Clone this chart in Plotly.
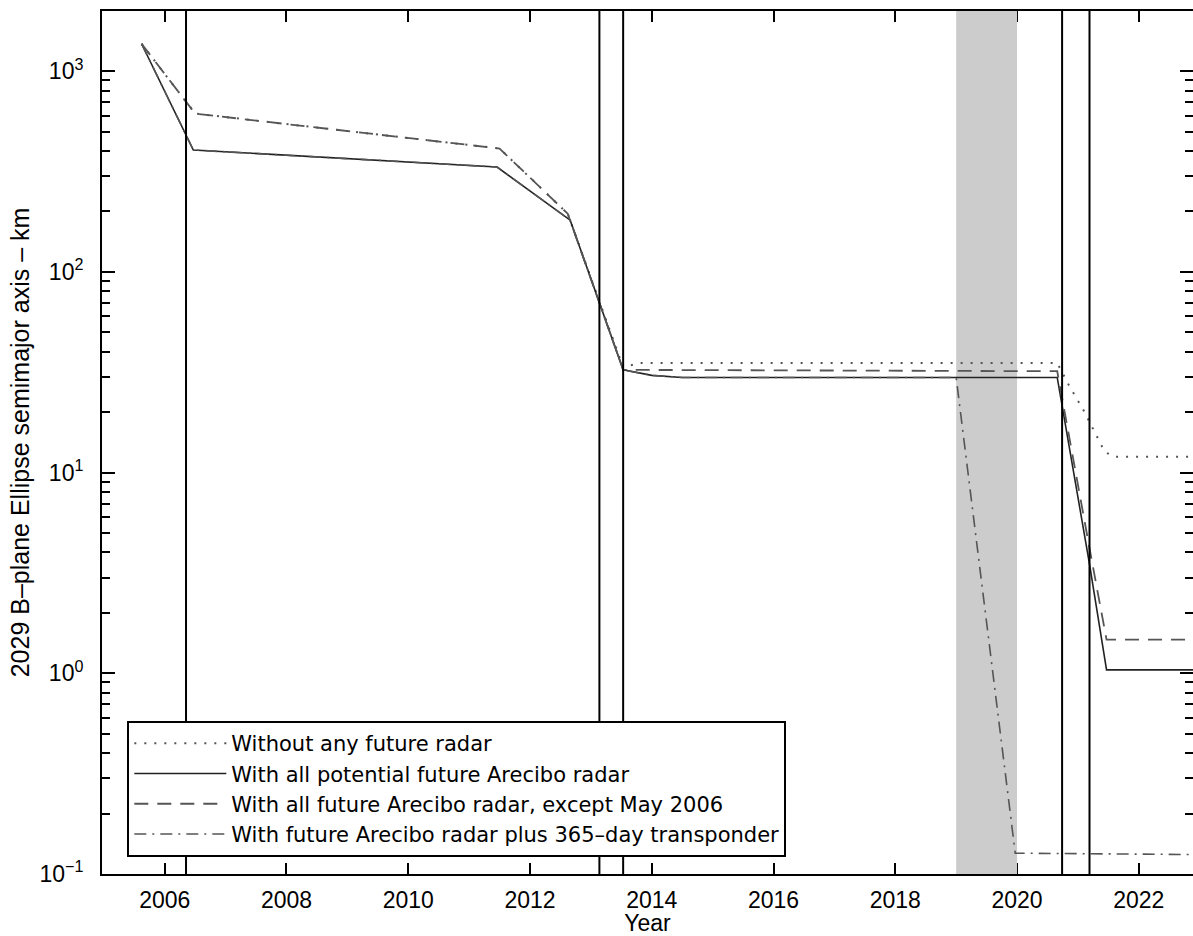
import plotly.graph_objects as go

# ---- data (years, semimajor axis in km) ----
dotted_x = [2005.62, 2006.50, 2011.50, 2012.62, 2013.53, 2013.80, 2020.66, 2020.85, 2021.09, 2021.28, 2021.44, 2021.59, 2022.89]
dotted_y = [1370, 615, 412, 195, 33.5, 35.2, 35.2, 27.3, 20.5, 15.7, 12.7, 12.0, 12.0]

solid_x = [2005.62, 2006.47, 2011.46, 2012.66, 2013.53, 2014.00, 2014.50, 2020.66, 2021.19, 2021.47, 2022.89]
solid_y = [1370, 405, 333, 181, 32.5, 30.5, 29.8, 29.8, 3.5, 1.04, 1.04]

dashed_x = [2005.62, 2006.50, 2011.50, 2012.62, 2013.53, 2020.66, 2021.19, 2021.47, 2022.89]
dashed_y = [1370, 615, 412, 195, 32.5, 32.0, 4.2, 1.47, 1.47]

dashdot_x = [2005.62, 2006.47, 2011.46, 2012.66, 2013.53, 2014.00, 2014.50, 2019.00, 2019.97, 2022.89]
dashdot_y = [1370, 405, 333, 181, 32.5, 30.5, 29.8, 29.8, 0.127, 0.125]

event_years = [2006.35, 2013.14, 2013.53, 2020.74, 2021.19]
band_years = [2019.0, 2020.0]

names = [
    "Without any future radar",
    "With all potential future Arecibo radar",
    "With all future Arecibo radar, except May 2006",
    "With future Arecibo radar plus 365\u2013day transponder",
]

x_ticks = [2006, 2008, 2010, 2012, 2014, 2016, 2018, 2020, 2022]
y_ticks = [0.1, 1, 10, 100, 1000]
y_ticktext = ["10<sup>\u22121</sup>", "10<sup>0</sup>", "10<sup>1</sup>", "10<sup>2</sup>", "10<sup>3</sup>"]
y_minor = [m * d for d in [0.1, 1, 10, 100, 1000] for m in range(2, 10)]

x_range = [2004.97, 2022.89]
y_log_range = [-1, 3.3]

FONT = "Liberation Sans, Arial, sans-serif"
LEGEND_FONT = "DejaVu Sans, Liberation Sans, sans-serif"

fig = go.Figure()

# grey band (drawn as a filled trace so it sits under the curves)
ylo, yhi = 10 ** y_log_range[0], 10 ** y_log_range[1]
fig.add_trace(go.Scatter(
    x=[band_years[0], band_years[1], band_years[1], band_years[0], band_years[0]],
    y=[ylo, ylo, yhi, yhi, ylo],
    fill="toself", fillcolor="#cccccc", line=dict(width=0), mode="lines",
    showlegend=False, hoverinfo="skip",
))

fig.add_trace(go.Scatter(x=dotted_x, y=dotted_y, mode="lines", name=names[0],
                         line=dict(color="#555555", width=2, dash="2px,8px")))
fig.add_trace(go.Scatter(x=solid_x, y=solid_y, mode="lines", name=names[1],
                         line=dict(color="#222222", width=1.6)))
fig.add_trace(go.Scatter(x=dashed_x, y=dashed_y, mode="lines", name=names[2],
                         line=dict(color="#555555", width=1.8, dash="14px,9px")))
fig.add_trace(go.Scatter(x=dashdot_x, y=dashdot_y, mode="lines", name=names[3],
                         line=dict(color="#555555", width=1.6, dash="12px,6px,2px,6px")))

for ey in event_years:
    fig.add_shape(type="line", xref="x", yref="paper", x0=ey, x1=ey, y0=0, y1=1,
                  line=dict(color="black", width=2), layer="above")

fig.update_layout(
    width=1193, height=936,
    margin=dict(l=102, r=0, t=11, b=62),
    paper_bgcolor="white", plot_bgcolor="white",
    font=dict(family=FONT, size=23, color="black"),
    showlegend=True,
    legend=dict(
        x=0.0232, y=0.0197, xanchor="left", yanchor="bottom",
        bgcolor="white", bordercolor="black", borderwidth=2,
        font=dict(family=LEGEND_FONT, size=21, color="black"),
        itemwidth=92, tracegroupgap=0,
    ),
    xaxis=dict(
        range=x_range, tickvals=x_ticks, ticks="inside", ticklen=11, tickwidth=1.5,
        tickcolor="black", showline=True, linecolor="black", linewidth=2,
        mirror="ticks", showgrid=False, zeroline=False, layer="below traces",
        tickfont=dict(family=FONT, size=23), automargin=False,
        title=dict(text="Year", font=dict(family=FONT, size=23), standoff=0),
        ticklabelstandoff=4,
    ),
    yaxis=dict(
        type="log", range=y_log_range, tickvals=y_ticks, ticktext=y_ticktext,
        ticks="inside", ticklen=13, tickwidth=1.5, tickcolor="black",
        minor=dict(tickvals=y_minor, ticks="inside", ticklen=8, tickwidth=1.5, tickcolor="black"),
        showline=True, linecolor="black", linewidth=2, mirror="ticks",
        showgrid=False, zeroline=False, layer="below traces",
        tickfont=dict(family=FONT, size=23), automargin=False,
        title=dict(text="2029 B\u2013plane Ellipse semimajor axis \u2013 km",
                   font=dict(family=FONT, size=25), standoff=3),
        ticklabelstandoff=12,
    ),
)

fig.write_html("out.html")
